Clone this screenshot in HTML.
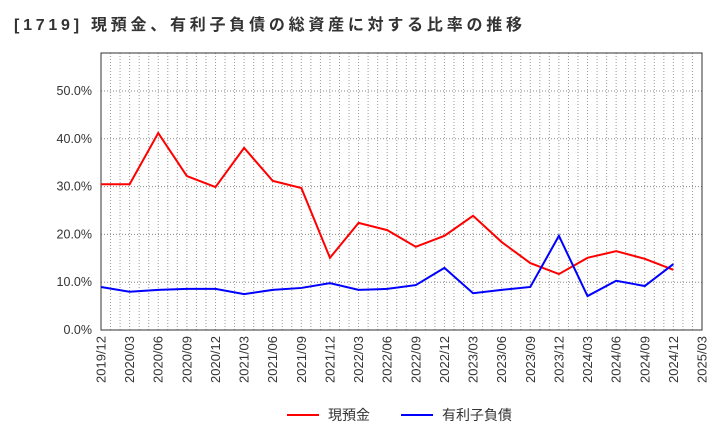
<!DOCTYPE html>
<html><head><meta charset="utf-8"><style>
body{margin:0;background:#fff;font-family:"Liberation Sans","Noto Sans CJK JP",sans-serif;}
svg text{font-family:"Liberation Sans","Noto Sans CJK JP",sans-serif;}
</style></head><body>
<svg id="c" width="720" height="440" xmlns="http://www.w3.org/2000/svg">
<text x="14" y="30" font-size="16" font-weight="bold" fill="#333" textLength="508" lengthAdjust="spacing">[1719]  現預金、有利子負債の総資産に対する比率の推移</text>
<g id="grid"></g><g id="axes"></g><g id="series"></g>
<g>
<line x1="287" y1="415" x2="319" y2="415" stroke="#f00" stroke-width="2"/>
<text x="328" y="420" font-size="14" fill="#333">現預金</text>
<line x1="401" y1="415" x2="433" y2="415" stroke="#00f" stroke-width="2"/>
<text x="442" y="420" font-size="14" fill="#333">有利子負債</text>
</g>
</svg>
<script>
const categories=["2019/12","2020/03","2020/06","2020/09","2020/12","2021/03","2021/06","2021/09","2021/12","2022/03","2022/06","2022/09","2022/12","2023/03","2023/06","2023/09","2023/12","2024/03","2024/06","2024/09","2024/12","2025/03"];
const cash=[30.5,30.5,41.2,32.2,29.9,38.1,31.2,29.7,15.1,22.4,20.9,17.4,19.7,23.9,18.4,14.0,11.7,15.1,16.5,14.9,12.6];
const debt=[9.0,8.0,8.4,8.6,8.6,7.5,8.4,8.8,9.8,8.4,8.6,9.4,13.0,7.7,8.4,9.0,19.7,7.1,10.3,9.2,13.8];
const yTicks=[0,10,20,30,40,50];
const L=101,R=702,T=53,B=330;
const x=i=>L+(R-L)*i/(categories.length-1);
const y=v=>B-(B-91)*v/50;
const NS="http://www.w3.org/2000/svg";
function mk(p,t,a){const e=document.createElementNS(NS,t);for(const k in a)e.setAttribute(k,a[k]);p.appendChild(e);return e;}
const g=document.getElementById('grid'),ax=document.getElementById('axes'),s=document.getElementById('series');
for(let m=1;m<(categories.length-1)*3;m++){const xx=L+(R-L)*m/((categories.length-1)*3);
const l=mk(g,'line',{x1:xx,x2:xx,y1:T,y2:B,stroke:'#999','stroke-dasharray':'1,2','stroke-width':1});

}
yTicks.forEach(v=>{if(v>0){const l=mk(g,'line',{x1:L,x2:R,y1:y(v),y2:y(v),stroke:'#888','stroke-dasharray':'1,2'});

}
const t=mk(ax,'text',{x:L-9,y:y(v)+4,'font-size':12.5,'text-anchor':'end',fill:'#333'});t.textContent=v.toFixed(1)+'%';

});
const fr=mk(ax,'rect',{x:L,y:T,width:R-L,height:B-T,fill:'none',stroke:'#333','stroke-width':1});


categories.forEach((c,i)=>{const t=mk(ax,'text',{transform:`translate(${x(i)+4.5},${B+6}) rotate(-90)`,'font-size':13,'text-anchor':'end',fill:'#333'});t.textContent=c;

});
function line(d,col,name){const p=mk(s,'polyline',{points:d.map((v,i)=>x(i)+','+y(v)).join(' '),fill:'none',stroke:col,'stroke-width':2});

}
line(cash,'#f00','cash-line');line(debt,'#00f','debt-line');
</script>
</body></html>
